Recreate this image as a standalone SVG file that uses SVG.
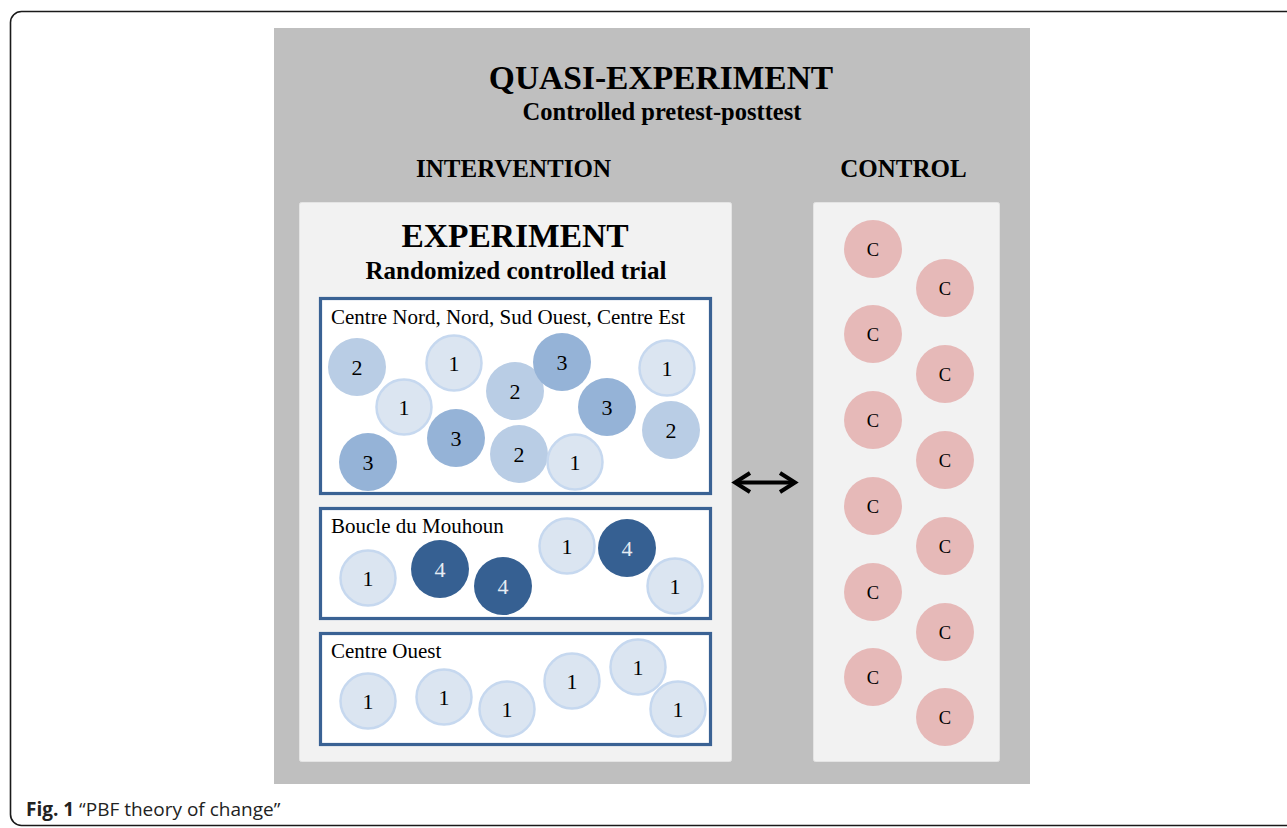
<svg xmlns="http://www.w3.org/2000/svg" width="1287" height="828" viewBox="0 0 1287 828">
<style>
.frame{fill:#ffffff;stroke:#1a1a1a;stroke-width:1.6}
.outer{fill:#bfbfbf}
.panel{fill:#f2f2f2;stroke:#e4e4e4;stroke-width:1}
.region{fill:#ffffff;stroke:#3a6294;stroke-width:3.2}
.h1{font-family:"Liberation Serif","Times New Roman",serif;font-weight:bold;font-size:33.5px;fill:#000;text-anchor:middle}
.h2{font-family:"Liberation Serif","Times New Roman",serif;font-weight:bold;font-size:25px;fill:#000;text-anchor:middle}
.lbl{font-family:"Liberation Serif","Times New Roman",serif;font-size:21px;fill:#000}
.num{font-family:"Liberation Serif","Times New Roman",serif;font-size:22px;fill:#000;text-anchor:middle}
.c1{fill:#dbe5f1;stroke:#c6d8ef;stroke-width:2.5}
.c2{fill:#b9cde5}
.c3{fill:#95b3d7}
.c4{fill:#366092}
.n4{fill:#e6ecf4}
.cc{fill:#e6b9b8}
.nc{font-family:"Liberation Serif","Times New Roman",serif;font-size:18.5px;fill:#000;text-anchor:middle}
.cap{font-family:"Open Sans","Noto Sans",sans-serif;font-size:19px;fill:#222}
.arrow{stroke:#000;stroke-width:4;fill:none}
</style>
<defs>
<marker id="chev" markerUnits="userSpaceOnUse" markerWidth="24" markerHeight="24" viewBox="0 0 24 24" refX="18" refY="12" orient="auto-start-reverse" overflow="visible">
<path d="M 3 2.5 L 18 12 L 3 21.5" fill="none" stroke="#000" stroke-width="4" stroke-linejoin="miter"/>
</marker>
</defs>

<g id="figure-frame">
<rect class="frame" x="10.5" y="11.5" width="1300" height="814" rx="11" ry="11"/>
</g>

<g id="quasi-experiment">
<rect class="outer" x="274" y="28" width="756" height="756"/>
<text class="h1" x="661" y="89">QUASI-EXPERIMENT</text>
<text class="h2" x="662" y="120" style="font-size:24.5px">Controlled pretest-posttest</text>
<text class="h2" x="513.5" y="177">INTERVENTION</text>
<text class="h2" x="903.5" y="177">CONTROL</text>
</g>

<g id="experiment">
<rect class="panel" x="299.5" y="202.5" width="432" height="559" rx="2"/>
<text class="h1" x="515" y="247">EXPERIMENT</text>
<text class="h2" x="516" y="279">Randomized controlled trial</text>
</g>

<g id="region-centre-nord">
<rect class="region" x="320.5" y="298.5" width="390" height="195"/>
<text class="lbl" x="331" y="324">Centre Nord, Nord, Sud Ouest, Centre Est</text>
<g id="cn-a"><circle class="c2" cx="357" cy="367" r="29"/><text class="num" x="357" y="375">2</text></g>
<g id="cn-b"><circle class="c1" cx="454" cy="363" r="27.5"/><text class="num" x="454" y="371">1</text></g>
<g id="cn-c"><circle class="c1" cx="404" cy="407" r="27.5"/><text class="num" x="404" y="415">1</text></g>
<g id="cn-d"><circle class="c2" cx="515" cy="391" r="29"/><text class="num" x="515" y="399">2</text></g>
<g id="cn-e"><circle class="c3" cx="562" cy="362" r="29"/><text class="num" x="562" y="370">3</text></g>
<g id="cn-f"><circle class="c1" cx="667" cy="368" r="27.5"/><text class="num" x="667" y="376">1</text></g>
<g id="cn-g"><circle class="c3" cx="607" cy="407" r="29"/><text class="num" x="607" y="415">3</text></g>
<g id="cn-h"><circle class="c2" cx="671" cy="430" r="29"/><text class="num" x="671" y="438">2</text></g>
<g id="cn-i"><circle class="c3" cx="368" cy="462" r="29"/><text class="num" x="368" y="470">3</text></g>
<g id="cn-j"><circle class="c3" cx="456" cy="438" r="29"/><text class="num" x="456" y="446">3</text></g>
<g id="cn-k"><circle class="c2" cx="519" cy="454" r="29"/><text class="num" x="519" y="462">2</text></g>
<g id="cn-l"><circle class="c1" cx="575" cy="462" r="27.5"/><text class="num" x="575" y="470">1</text></g>
</g>

<g id="region-boucle">
<rect class="region" x="320.5" y="508.5" width="390" height="110"/>
<text class="lbl" x="331" y="533">Boucle du Mouhoun</text>
<g id="bm-a"><circle class="c1" cx="368" cy="578" r="27.5"/><text class="num" x="368" y="586">1</text></g>
<g id="bm-b"><circle class="c4" cx="440" cy="569" r="29"/><text class="num n4" x="440" y="577">4</text></g>
<g id="bm-c"><circle class="c4" cx="503" cy="586" r="29"/><text class="num n4" x="503" y="594">4</text></g>
<g id="bm-d"><circle class="c1" cx="567" cy="546" r="27.5"/><text class="num" x="567" y="554">1</text></g>
<g id="bm-e"><circle class="c4" cx="627" cy="548" r="29"/><text class="num n4" x="627" y="556">4</text></g>
<g id="bm-f"><circle class="c1" cx="675" cy="586" r="27.5"/><text class="num" x="675" y="594">1</text></g>
</g>

<g id="region-centre-ouest">
<rect class="region" x="320.5" y="633.5" width="390" height="111"/>
<text class="lbl" x="331" y="658">Centre Ouest</text>
<g id="co-a"><circle class="c1" cx="368" cy="701" r="27.5"/><text class="num" x="368" y="709">1</text></g>
<g id="co-b"><circle class="c1" cx="444" cy="697" r="27.5"/><text class="num" x="444" y="705">1</text></g>
<g id="co-c"><circle class="c1" cx="507" cy="709" r="27.5"/><text class="num" x="507" y="717">1</text></g>
<g id="co-d"><circle class="c1" cx="572" cy="681" r="27.5"/><text class="num" x="572" y="689">1</text></g>
<g id="co-e"><circle class="c1" cx="638" cy="667" r="27.5"/><text class="num" x="638" y="675">1</text></g>
<g id="co-f"><circle class="c1" cx="678" cy="709" r="27.5"/><text class="num" x="678" y="717">1</text></g>
</g>

<g id="control">
<rect class="panel" x="813.5" y="202.5" width="186" height="559" rx="2"/>
<g id="ctl-1"><circle class="cc" cx="873" cy="249" r="29"/><text class="nc" x="873" y="255.5">C</text></g>
<g id="ctl-2"><circle class="cc" cx="945" cy="288" r="29"/><text class="nc" x="945" y="294.5">C</text></g>
<g id="ctl-3"><circle class="cc" cx="873" cy="334" r="29"/><text class="nc" x="873" y="340.5">C</text></g>
<g id="ctl-4"><circle class="cc" cx="945" cy="374" r="29"/><text class="nc" x="945" y="380.5">C</text></g>
<g id="ctl-5"><circle class="cc" cx="873" cy="420" r="29"/><text class="nc" x="873" y="426.5">C</text></g>
<g id="ctl-6"><circle class="cc" cx="945" cy="460" r="29"/><text class="nc" x="945" y="466.5">C</text></g>
<g id="ctl-7"><circle class="cc" cx="873" cy="506" r="29"/><text class="nc" x="873" y="512.5">C</text></g>
<g id="ctl-8"><circle class="cc" cx="945" cy="546" r="29"/><text class="nc" x="945" y="552.5">C</text></g>
<g id="ctl-9"><circle class="cc" cx="873" cy="592" r="29"/><text class="nc" x="873" y="598.5">C</text></g>
<g id="ctl-10"><circle class="cc" cx="945" cy="632" r="29"/><text class="nc" x="945" y="638.5">C</text></g>
<g id="ctl-11"><circle class="cc" cx="873" cy="677" r="29"/><text class="nc" x="873" y="683.5">C</text></g>
<g id="ctl-12"><circle class="cc" cx="945" cy="717" r="29"/><text class="nc" x="945" y="723.5">C</text></g>
</g>

<g id="connectors">
<line class="arrow" x1="735" y1="482.5" x2="795" y2="482.5" marker-start="url(#chev)" marker-end="url(#chev)"/>
</g>

<g id="caption">
<text class="cap" x="26" y="815.5"><tspan font-weight="bold">Fig. 1</tspan> “PBF theory of change”</text>
</g>
</svg>
